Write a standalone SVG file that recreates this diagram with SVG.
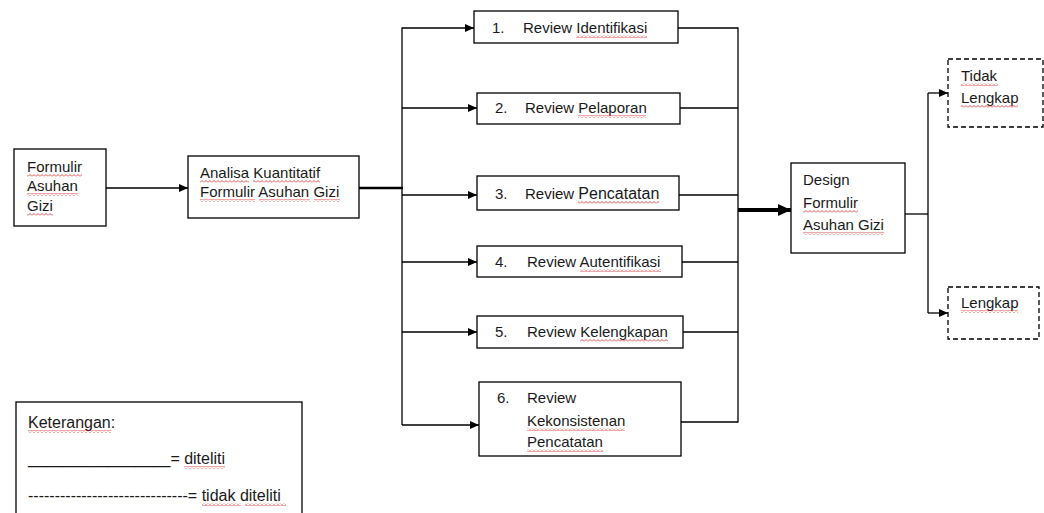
<svg xmlns="http://www.w3.org/2000/svg" width="1044" height="513" viewBox="0 0 1044 513">
<style>
.box{fill:#fff;stroke:#000;stroke-width:1.3}
.dbox{fill:#fff;stroke:#000;stroke-width:1.3;stroke-dasharray:5 3}
text{font-family:"Liberation Sans",Arial,sans-serif;font-size:15px;fill:#1a1a1a}
.big{font-size:16px}
.ln{fill:none;stroke:#000;stroke-width:1.3}
.sq{fill:url(#sq)}
</style>
<defs>
<marker id="ah" markerUnits="userSpaceOnUse" markerWidth="10" markerHeight="10" refX="9" refY="5" orient="auto">
<path d="M0,1 L9,5 L0,9 Z" fill="#000"/>
</marker>
<marker id="ahb" markerUnits="userSpaceOnUse" markerWidth="14" markerHeight="14" refX="13" refY="7" orient="auto">
<path d="M0,1 L13,7 L0,13 Z" fill="#000"/>
</marker>
<pattern id="sq" patternUnits="userSpaceOnUse" width="4" height="3">
<path d="M0,2.5 L2,0.5 L4,2.5" fill="none" stroke="#d22" stroke-width="0.8"/>
</pattern>
</defs>

<g id="connectors">
<line class="ln" x1="106" y1="188" x2="188" y2="188" marker-end="url(#ah)"/>
<line x1="359" y1="188" x2="403" y2="188" stroke="#000" stroke-width="2.6"/>
<line class="ln" x1="402" y1="27.5" x2="402" y2="425"/>
<line class="ln" x1="402" y1="28" x2="474" y2="28" marker-end="url(#ah)"/>
<line class="ln" x1="402" y1="108" x2="477" y2="108" marker-end="url(#ah)"/>
<line class="ln" x1="402" y1="195" x2="477" y2="195" marker-end="url(#ah)"/>
<line class="ln" x1="402" y1="262" x2="477" y2="262" marker-end="url(#ah)"/>
<line class="ln" x1="402" y1="332" x2="477" y2="332" marker-end="url(#ah)"/>
<line class="ln" x1="402" y1="425" x2="479" y2="425" marker-end="url(#ah)"/>
<line class="ln" x1="678" y1="28" x2="738" y2="28"/>
<line class="ln" x1="680" y1="108" x2="738" y2="108"/>
<line class="ln" x1="679" y1="195" x2="738" y2="195"/>
<line class="ln" x1="682" y1="262" x2="738" y2="262"/>
<line class="ln" x1="683" y1="332" x2="738" y2="332"/>
<line class="ln" x1="681" y1="422" x2="738" y2="422"/>
<line class="ln" x1="738" y1="27.5" x2="738" y2="422.5"/>
<line x1="738" y1="210" x2="791" y2="210" stroke="#000" stroke-width="4" marker-end="url(#ahb)"/>
<line class="ln" x1="905" y1="214" x2="928" y2="214"/>
<line class="ln" x1="928" y1="93" x2="928" y2="313"/>
<line class="ln" x1="928" y1="93" x2="948" y2="93" marker-end="url(#ah)"/>
<line class="ln" x1="928" y1="313" x2="948" y2="313" marker-end="url(#ah)"/>
</g>

<g id="node-formulir">
<rect class="box" x="14" y="149" width="92" height="77"/>
<text x="27" y="172">Formulir</text>
<text x="27" y="191">Asuhan</text>
<text x="27" y="211">Gizi</text>
<rect class="sq" x="27" y="174" width="55" height="3"/>
<rect class="sq" x="27" y="193" width="51" height="3"/>
<rect class="sq" x="27" y="213" width="26" height="3"/>
</g>

<g id="node-analisa">
<rect class="box" x="188" y="156" width="171" height="62"/>
<text x="200" y="178">Analisa Kuantitatif</text>
<text x="200" y="197">Formulir Asuhan Gizi</text>
<rect class="sq" x="200" y="180" width="49" height="3"/>
<rect class="sq" x="253" y="180" width="67" height="3"/>
<rect class="sq" x="200" y="199" width="55" height="3"/>
<rect class="sq" x="259" y="199" width="51" height="3"/>
<rect class="sq" x="314" y="199" width="26" height="3"/>
</g>

<g id="node-r1">
<rect class="box" x="474" y="11" width="204" height="32"/>
<text x="492" y="33">1.</text>
<text x="523" y="33">Review Identifikasi</text>
<rect class="sq" x="576" y="35" width="71" height="3"/>
</g>

<g id="node-r2">
<rect class="box" x="477" y="93" width="203" height="31"/>
<text x="495" y="113">2.</text>
<text x="525" y="113">Review Pelaporan</text>
<rect class="sq" x="578" y="115" width="68" height="3"/>
</g>

<g id="node-r3">
<rect class="box" x="477" y="176" width="202" height="34"/>
<text x="495" y="199">3.</text>
<text x="525" y="199">Review <tspan class="big">Pencatatan</tspan></text>
<rect class="sq" x="578" y="201" width="81" height="3"/>
</g>

<g id="node-r4">
<rect class="box" x="477" y="246" width="205" height="31"/>
<text x="495" y="267">4.</text>
<text x="527" y="267">Review Autentifikasi</text>
<rect class="sq" x="580" y="269" width="81" height="3"/>
</g>

<g id="node-r5">
<rect class="box" x="477" y="316" width="206" height="32"/>
<text x="495" y="337">5.</text>
<text x="527" y="337">Review Kelengkapan</text>
<rect class="sq" x="580" y="339" width="88" height="3"/>
</g>

<g id="node-r6">
<rect class="box" x="479" y="382" width="202" height="74"/>
<text x="497" y="403">6.</text>
<text x="527" y="403">Review</text>
<text x="527" y="426">Kekonsistenan</text>
<text x="527" y="447">Pencatatan</text>
<rect class="sq" x="527" y="428" width="98" height="3"/>
<rect class="sq" x="527" y="449" width="76" height="3"/>
</g>

<g id="node-design">
<rect class="box" x="791" y="163" width="114" height="90"/>
<text x="803" y="185">Design</text>
<text x="803" y="208">Formulir</text>
<text x="803" y="230">Asuhan Gizi</text>
<rect class="sq" x="803" y="210" width="55" height="3"/>
<rect class="sq" x="803" y="232" width="81" height="3"/>
</g>

<g id="node-tidak-lengkap">
<rect class="dbox" x="948" y="59" width="95" height="68"/>
<text x="961" y="81">Tidak</text>
<text x="961" y="103">Lengkap</text>
<rect class="sq" x="961" y="83" width="37" height="3"/>
<rect class="sq" x="961" y="105" width="57" height="3"/>
</g>

<g id="node-lengkap">
<rect class="dbox" x="948" y="287" width="91" height="52"/>
<text x="961" y="308">Lengkap</text>
<rect class="sq" x="961" y="310" width="57" height="3"/>
</g>

<g id="legend">
<rect class="box" x="16" y="402" width="286" height="130"/>
<text class="big" x="28" y="428">Keterangan:</text>
<text class="big" x="28" y="464">________________= diteliti</text>
<text class="big" x="28" y="501">------------------------------= tidak diteliti</text>
<rect class="sq" x="28" y="430" width="83" height="3"/>
<rect class="sq" x="184" y="466" width="41" height="3"/>
<rect class="sq" x="202" y="503" width="39" height="3"/>
<rect class="sq" x="245" y="503" width="41" height="3"/>
</g>
</svg>
